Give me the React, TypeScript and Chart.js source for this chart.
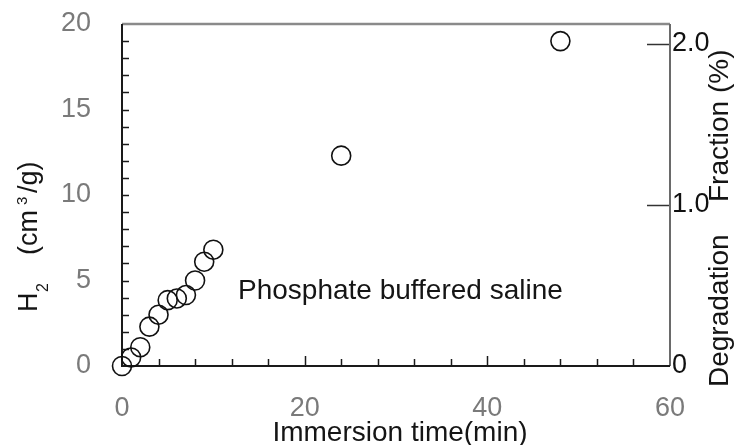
import React, { useEffect, useRef } from "react";
import { Chart, registerables } from "chart.js";

Chart.register(...registerables);

// ---- data ----
const timeMin = [0, 1, 2, 3, 4, 5, 6, 7, 8, 9, 10, 24, 48];
const h2Values = [0, 0.5, 1.1, 2.3, 3.0, 3.85, 3.95, 4.15, 5.0, 6.1, 6.8, 12.3, 19.0];

const xTickLabels = ["0", "20", "40", "60"];
const leftTickLabels = ["0", "5", "10", "15", "20"];
const rightTickValues = [0, 1, 2];
const rightTickLabels = ["0", "1.0", "2.0"];

const xTitle = "Immersion time(min)";
const yTitleMain = "H";
const yTitleSub = "2";
const yTitleUnitA = "(cm";
const yTitleSup = "3";
const yTitleUnitB = "/g)";
const rightTitleA = "Degradation";
const rightTitleB = "Fraction (%)";
const annotationText = "Phosphate buffered saline";
const annotationAt = { x: 12.7, y: 3.92 };

const FONT = '"Liberation Sans", Arial, Helvetica, sans-serif';

const decorPlugin = {
  id: "decor",
  beforeDatasetsDraw(chart: any) {
    const { ctx, chartArea: a, scales } = chart;
    const x = scales.x;
    const y = scales.y;
    const yr = scales.yr;
    ctx.save();
    ctx.lineCap = "butt";
    // inner tick marks
    ctx.strokeStyle = "#1a1a1a";
    ctx.lineWidth = 1.5;
    for (let v = 4; v < 60; v += 4) {
      const px = Math.round(x.getPixelForValue(v)) + 0.5;
      const len = v % 20 === 0 ? 10 : 7;
      ctx.beginPath();
      ctx.moveTo(px, a.bottom);
      ctx.lineTo(px, a.bottom - len);
      ctx.stroke();
    }
    for (let v = 1; v < 20; v += 1) {
      const py = Math.round(y.getPixelForValue(v)) + 0.5;
      const len = 7;
      ctx.beginPath();
      ctx.moveTo(a.left, py);
      ctx.lineTo(a.left + len, py);
      ctx.stroke();
    }
    ctx.strokeStyle = "#333";
    for (const v of [1, 2]) {
      const py = Math.round(yr.getPixelForValue(v)) + 0.5;
      ctx.beginPath();
      ctx.moveTo(a.right, py);
      ctx.lineTo(a.right - 23, py);
      ctx.stroke();
    }
    // frame
    ctx.lineWidth = 2.5;
    ctx.strokeStyle = "#8a8a8a";
    ctx.beginPath();
    ctx.moveTo(a.left, a.top);
    ctx.lineTo(a.right, a.top);
    ctx.stroke();
    ctx.lineWidth = 2;
    ctx.strokeStyle = "#6a6a6a";
    ctx.beginPath();
    ctx.moveTo(a.right, a.top);
    ctx.lineTo(a.right, a.bottom);
    ctx.stroke();
    ctx.strokeStyle = "#1a1a1a";
    ctx.beginPath();
    ctx.moveTo(a.left, a.top);
    ctx.lineTo(a.left, a.bottom);
    ctx.lineTo(a.right, a.bottom);
    ctx.stroke();
    ctx.restore();
  },
  afterDraw(chart: any) {
    const { ctx, chartArea: a, scales } = chart;
    const x = scales.x;
    const y = scales.y;
    ctx.save();
    ctx.fillStyle = "#151515";
    ctx.textBaseline = "alphabetic";
    ctx.textAlign = "left";

    // annotation
    ctx.font = `28px ${FONT}`;
    ctx.fillText(annotationText, x.getPixelForValue(annotationAt.x), y.getPixelForValue(annotationAt.y));

    // x title
    ctx.textAlign = "center";
    ctx.font = `28px ${FONT}`;
    ctx.fillText(xTitle, (a.left + a.right) / 2 + 4, 441);

    // left title (rotated)
    ctx.textAlign = "left";
    ctx.save();
    ctx.translate(37, 312);
    ctx.rotate(-Math.PI / 2);
    ctx.font = `27px ${FONT}`;
    ctx.fillText(yTitleMain, 0, 0);
    ctx.font = `16px ${FONT}`;
    ctx.fillText(yTitleSub, 20, 11);
    ctx.font = `27px ${FONT}`;
    ctx.fillText(yTitleUnitA, 57, 0);
    ctx.font = `15px ${FONT}`;
    ctx.fillText(yTitleSup, 107, -10);
    ctx.font = `27px ${FONT}`;
    ctx.fillText(yTitleUnitB, 119, 0);
    ctx.restore();

    // right title (rotated)
    ctx.save();
    ctx.translate(728, 387);
    ctx.rotate(-Math.PI / 2);
    ctx.font = `28px ${FONT}`;
    ctx.fillText(rightTitleA, 0, 0);
    ctx.fillText(rightTitleB, 185, 0);
    ctx.restore();

    ctx.restore();
  },
};

export default function App() {
  const canvasRef = useRef<HTMLCanvasElement | null>(null);

  useEffect(() => {
    const canvas = canvasRef.current;
    if (!canvas) return;
    const chart = new Chart(canvas, {
      type: "scatter",
      data: {
        datasets: [
          {
            label: "H2",
            data: timeMin.map((t, i) => ({ x: t, y: h2Values[i] })),
            pointStyle: "circle",
            pointRadius: 9.5,
            pointHoverRadius: 9.5,
            borderColor: "#111",
            backgroundColor: "rgba(0,0,0,0)",
            pointBorderWidth: 1.6,
            borderWidth: 1.6,
            showLine: false,
            clip: false as any,
          },
        ],
      },
      options: {
        responsive: false,
        maintainAspectRatio: false,
        animation: false,
        devicePixelRatio: 1,
        layout: { padding: { top: 24, left: 0, right: 0, bottom: 0 } },
        plugins: {
          legend: { display: false },
          tooltip: { enabled: false },
          title: { display: false },
        },
        scales: {
          x: {
            type: "linear",
            position: "bottom",
            min: 0,
            max: 60,
            grid: { display: false, drawTicks: false },
            border: { display: false },
            ticks: {
              stepSize: 20,
              padding: 26,
              color: "#7a7a7a",
              font: { family: FONT, size: 27 },
              maxRotation: 0,
              autoSkip: false,
              callback: (_v: any, i: number) => xTickLabels[i],
            },
            afterFit: (s: any) => {
              s.height = 79;
              s.paddingLeft = 0;
              s.paddingRight = 0;
            },
          },
          y: {
            type: "linear",
            position: "left",
            min: 0,
            max: 20,
            grid: { display: false, drawTicks: false },
            border: { display: false },
            ticks: {
              stepSize: 5,
              padding: 31,
              color: "#7a7a7a",
              font: { family: FONT, size: 27 },
              callback: (_v: any, i: number) => leftTickLabels[i],
            },
            afterFit: (s: any) => {
              s.width = 122;
              s.paddingTop = 0;
              s.paddingBottom = 0;
            },
          },
          yr: {
            type: "linear",
            position: "right",
            display: true,
            min: 0,
            max: 2.124,
            grid: { display: false, drawTicks: false },
            border: { display: false },
            afterBuildTicks: (s: any) => {
              s.ticks = rightTickValues.map((v) => ({ value: v }));
            },
            ticks: {
              padding: 2,
              color: "#111",
              font: { family: FONT, size: 27 },
              callback: (_v: any, i: number) => rightTickLabels[i],
            },
            afterFit: (s: any) => {
              s.width = 65;
              s.paddingTop = 0;
              s.paddingBottom = 0;
            },
          },
        },
      },
      plugins: [decorPlugin],
    });
    return () => chart.destroy();
  }, []);

  return (
    <div style={{ position: "fixed", left: 0, top: 0, width: 735, height: 445, background: "#fff" }}>
      <canvas ref={canvasRef} width={735} height={445} style={{ display: "block", width: 735, height: 445 }} />
    </div>
  );
}
